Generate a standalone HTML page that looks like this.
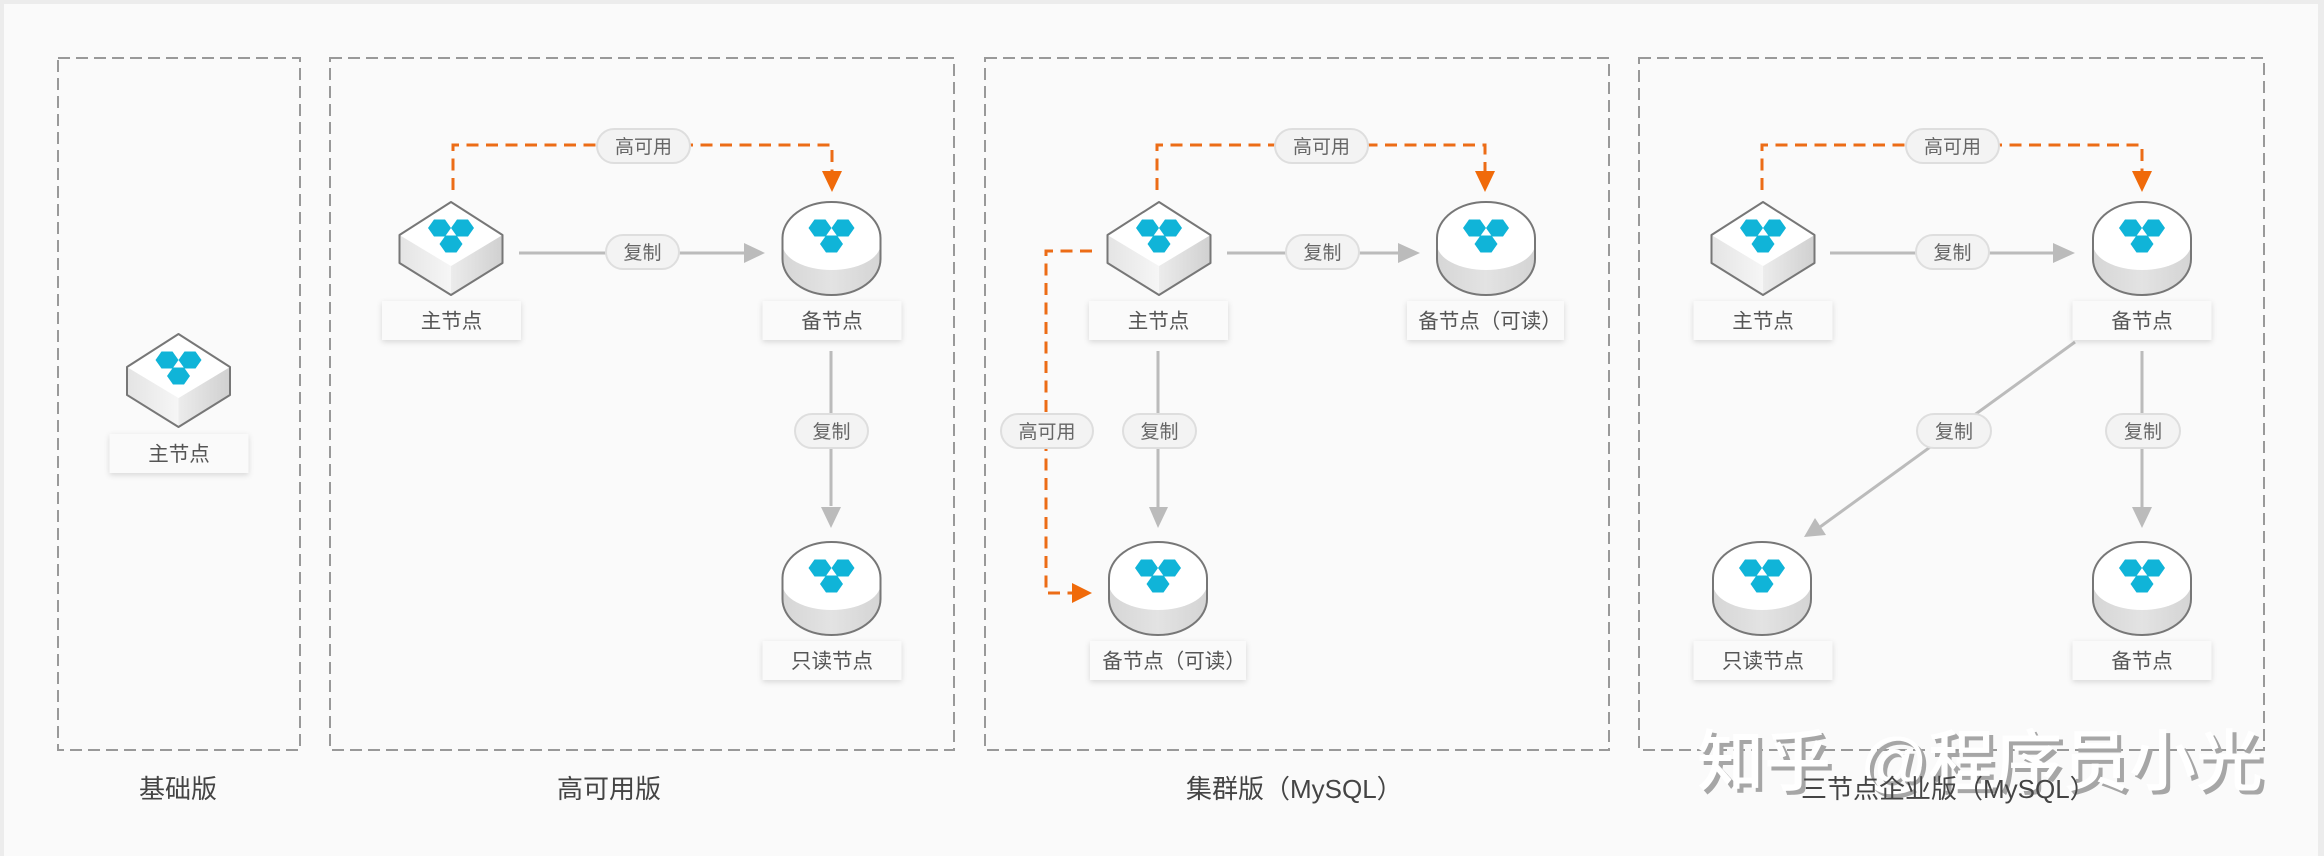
<!DOCTYPE html>
<html lang="zh"><head><meta charset="utf-8"><title>Diagram</title>
<style>
html,body{margin:0;padding:0;background:#ececec}
svg{display:block}
text{font-family:"Liberation Sans","Noto Sans CJK SC",sans-serif}
.lb{font-size:20.5px;fill:#555;text-anchor:middle}
.pl{font-size:19px;fill:#666;text-anchor:middle}
.tt{font-size:26px;fill:#444}
</style></head><body>
<svg width="2324" height="856" viewBox="0 0 2324 856" xmlns="http://www.w3.org/2000/svg">
<defs>
<linearGradient id="gl" x1="0" y1="0" x2="1" y2="0"><stop offset="0" stop-color="#e4e4e4"/><stop offset="1" stop-color="#f6f6f6"/></linearGradient>
<linearGradient id="gr" x1="0" y1="0" x2="1" y2="0"><stop offset="0" stop-color="#ececec"/><stop offset="1" stop-color="#d0d0d0"/></linearGradient>
<linearGradient id="gc" x1="0" y1="0" x2="1" y2="0"><stop offset="0" stop-color="#d6d6d6"/><stop offset=".5" stop-color="#e3e3e3"/><stop offset="1" stop-color="#d4d4d4"/></linearGradient>
<filter id="sh" x="-10%" y="-20%" width="120%" height="150%"><feDropShadow dx="0" dy="2" stdDeviation="3" flood-color="#000" flood-opacity=".14"/></filter>
<g id="hx" fill="#10b4d8"><polygon points="-23,26 -17,17.5 -6,17.5 0,26 -6,34.5 -17,34.5"/><polygon points="0,26 6,17.5 17,17.5 23,26 17,34.5 6,34.5"/><polygon points="-11.5,42 -5.5,33.5 5.5,33.5 11.5,42 5.5,50.5 -5.5,50.5"/></g>
<g id="cube">
<polygon points="-51.5,33 0,64 0,93 -51.5,61" fill="url(#gl)"/>
<polygon points="51.5,33 0,64 0,93 51.5,61" fill="url(#gr)"/>
<polygon points="0,0 51.5,33 0,64 -51.5,33" fill="#fff"/>
<polygon points="0,0 51.5,33 51.5,61 0,93 -51.5,61 -51.5,33" fill="none" stroke="#777" stroke-width="2" stroke-linejoin="round"/>
<use href="#hx"/>
</g>
<g id="cyl">
<path d="M-49,36 A49,36 0 0 1 49,36 L49,57 A49,36 0 0 1 -49,57 Z" fill="url(#gc)"/>
<path d="M-49,36 A49,36 0 0 1 49,36 L49,42 A49,26 0 0 1 -49,42 Z" fill="#fff"/>
<path d="M-49,36 A49,36 0 0 1 49,36 L49,57 A49,36 0 0 1 -49,57 Z" fill="none" stroke="#777" stroke-width="2"/>
<use href="#hx"/>
</g>
<rect id="lab" x="-69.5" y="0" width="139" height="39" fill="#fafafa" filter="url(#sh)"/>
</defs>

<rect x="0" y="0" width="2324" height="856" fill="#ececec"/>
<rect x="4" y="4" width="2314" height="852" fill="#fafafa"/>

<g fill="none" stroke="#999" stroke-width="2" stroke-dasharray="12 6">
<rect x="58" y="58" width="242" height="692"/>
<rect x="330" y="58" width="624" height="692"/>
<rect x="985" y="58" width="624" height="692"/>
<rect x="1639" y="58" width="625" height="692"/>
</g>

<!-- gray connectors -->
<g stroke="#bbb" stroke-width="3" fill="none">
<path d="M519 253H745"/><path d="M831 351V506"/>
<path d="M1227 253H1400"/><path d="M1158 351V508"/>
<path d="M1830 253H2055"/><path d="M2142 351V508"/>
<path d="M2075 342L1820 527"/>
</g>
<g fill="#bbb">
<polygon points="744,243 765,253 744,263"/>
<polygon points="821,507 841,507 831,528"/>
<polygon points="1398,243 1420,253 1398,263"/>
<polygon points="1149,507 1168,507 1158,528"/>
<polygon points="2053,243 2075,253 2053,263"/>
<polygon points="2132,507 2152,507 2142,528"/>
<polygon points="1804,537 1815,518 1826,535"/>
</g>

<!-- orange connectors -->
<g stroke="#ec6c16" stroke-width="3" fill="none" stroke-dasharray="12 7.5">
<path d="M453 190V145H832V175"/>
<path d="M1157 190V145H1485V175"/>
<path d="M1762 190V145H2142V175"/>
<path d="M1092 251H1046V593H1075"/>
</g>
<g fill="#f06a0a">
<polygon points="822,171 842,171 832,192"/>
<polygon points="1475,171 1495,171 1485,192"/>
<polygon points="2132,171 2152,171 2142,192"/>
<polygon points="1072,583 1092,593 1072,603"/>
</g>

<!-- nodes -->
<use href="#cube" x="178.5" y="334"/>
<use href="#cube" x="451" y="202"/>
<use href="#cyl" x="831.5" y="202"/>
<use href="#cyl" x="831.5" y="542"/>
<use href="#cube" x="1159" y="202"/>
<use href="#cyl" x="1486" y="202"/>
<use href="#cyl" x="1158" y="542"/>
<use href="#cube" x="1763" y="202"/>
<use href="#cyl" x="2142" y="202"/>
<use href="#cyl" x="1762" y="542"/>
<use href="#cyl" x="2142" y="542"/>

<!-- node labels -->
<use href="#lab" x="179" y="434"/>
<use href="#lab" x="451.5" y="301"/>
<use href="#lab" x="832" y="301"/>
<use href="#lab" x="832" y="641"/>
<use href="#lab" x="1158.5" y="301"/>
<rect x="1407" y="301" width="157" height="39" fill="#fafafa" filter="url(#sh)"/>
<rect x="1090" y="641" width="156" height="39" fill="#fafafa" filter="url(#sh)"/>
<use href="#lab" x="1763" y="301"/>
<use href="#lab" x="2142" y="301"/>
<use href="#lab" x="1763" y="641"/>
<use href="#lab" x="2142" y="641"/>
<g class="lb">
<text class="lb" x="179" y="461">主节点</text>
<text class="lb" x="451.5" y="328">主节点</text>
<text class="lb" x="832" y="328">备节点</text>
<text class="lb" x="832" y="668">只读节点</text>
<text class="lb" x="1158.5" y="328">主节点</text>
<text class="lb" x="1490" y="328">备节点（可读）</text>
<text class="lb" x="1174" y="668">备节点（可读）</text>
<text class="lb" x="1763" y="328">主节点</text>
<text class="lb" x="2142" y="328">备节点</text>
<text class="lb" x="1763" y="668">只读节点</text>
<text class="lb" x="2142" y="668">备节点</text>
</g>

<!-- pills -->
<g fill="#f3f3f3" stroke="#dedede" stroke-width="2">
<rect x="597" y="129" width="93" height="34" rx="17"/>
<rect x="606" y="235" width="73" height="34" rx="17"/>
<rect x="795" y="414" width="73" height="34" rx="17"/>
<rect x="1275" y="129" width="93" height="34" rx="17"/>
<rect x="1286" y="235" width="73" height="34" rx="17"/>
<rect x="1001" y="414" width="92" height="34" rx="17"/>
<rect x="1123" y="414" width="73" height="34" rx="17"/>
<rect x="1906" y="129" width="93" height="34" rx="17"/>
<rect x="1916" y="235" width="73" height="34" rx="17"/>
<rect x="1917" y="414" width="74" height="34" rx="17"/>
<rect x="2106" y="414" width="74" height="34" rx="17"/>
</g>
<text class="pl" x="643.5" y="153">高可用</text>
<text class="pl" x="642.5" y="259">复制</text>
<text class="pl" x="831.5" y="438">复制</text>
<text class="pl" x="1321.5" y="153">高可用</text>
<text class="pl" x="1322.5" y="259">复制</text>
<text class="pl" x="1047" y="438">高可用</text>
<text class="pl" x="1159.5" y="438">复制</text>
<text class="pl" x="1952.5" y="153">高可用</text>
<text class="pl" x="1952.5" y="259">复制</text>
<text class="pl" x="1954" y="438">复制</text>
<text class="pl" x="2143" y="438">复制</text>

<!-- watermark -->
<g font-size="67" font-weight="500">
<text x="1701" y="789" fill="#a6a6a6">知乎<tspan x="1864">@</tspan><tspan x="1932">程序员小光</tspan></text>
<text x="1697" y="785" fill="#fff">知乎<tspan x="1860">@</tspan><tspan x="1928">程序员小光</tspan></text>
</g>

<!-- titles -->
<text class="tt" x="139" y="798">基础版</text>
<text class="tt" x="557" y="798">高可用版</text>
<text class="tt" x="1186" y="798">集群版（MySQL）</text>
<text class="tt" x="1801" y="798">三节点企业版（MySQL）</text>
</svg>
</body></html>
